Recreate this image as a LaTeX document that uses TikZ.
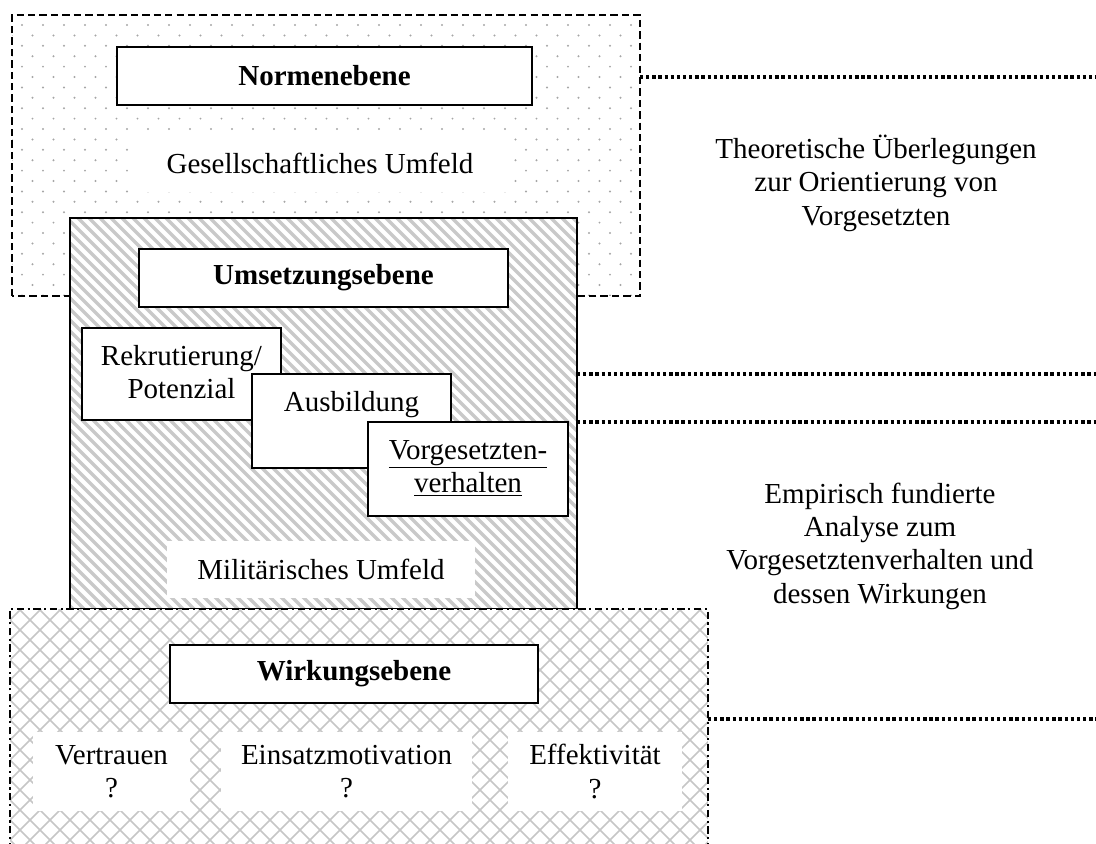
\documentclass[tikz,border=0pt]{standalone}
\usepackage{fontspec}
\setmainfont{Liberation Serif}
\usepackage{tikz}

\newcommand{\bildschrift}{\fontsize{16.5}{19}\selectfont}

\tikzset{
  ebene/.style={draw, line width=1.1pt, fill=white, inner sep=0pt, outer sep=0pt,
    minimum height=1.16cm, font=\bildschrift\bfseries},
  stufe/.style={draw, line width=0.85pt, fill=white, inner sep=0pt, outer sep=0pt,
    anchor=north west, minimum width=3.98cm, text height=0.74cm, font=\bildschrift},
  umfeld/.style={fill=white, inner sep=0pt, align=center, font=\bildschrift},
  notiz/.style={align=center, font=\bildschrift},
  rahmen/.style={inner sep=0pt, outer sep=0pt},
  punkt/.style={fill=gray!70},
  streifen/.style={draw=gray!42, line width=2pt},
  gitter/.style={draw=gray!45, line width=0.85pt},
  verbinder/.style={line width=1.9pt, dash pattern=on 1.9pt off 1.6pt},
}

\begin{document}
\begin{tikzpicture}[x=0.02cm, y=-0.02cm]
\useasboundingbox (0,0) rectangle (1096,843);

% Normenebene
\node[rahmen, minimum width=12.56cm, minimum height=5.62cm] (gesbox) at (326,155.5) {};
\begin{scope}
  \clip (gesbox.south west) rectangle (gesbox.north east);
  \foreach \r in {0,...,27}
    \foreach \c in {-1,...,30}
      \fill[punkt] ({22+21*\c+10.5*mod(\r,2)},{25+10.4*\r}) circle[radius=0.022cm];
\end{scope}
\draw[line width=0.85pt, dash pattern=on 4.2pt off 2.3pt] (gesbox.south west) rectangle (gesbox.north east);
\node[ebene, minimum width=8.3cm] (norm) at (324.5,76) {Normenebene};
\node[umfeld, minimum width=7.52cm, minimum height=1.14cm] (ges) at (320,163.5) {Gesellschaftliches Umfeld};

% Umsetzungsebene
\node[rahmen, minimum width=10.14cm, minimum height=7.82cm] (milbox) at (323.5,413.5) {};
\begin{scope}
  \clip (milbox.south west) rectangle (milbox.north east);
  \fill[white] (milbox.south west) rectangle (milbox.north east);
  \foreach \k in {-37,...,48}
    \draw[streifen] ({70+11*\k},210) -- ++(410,410);
\end{scope}
\draw[line width=0.85pt] (milbox.south west) rectangle (milbox.north east);
\node[ebene, minimum width=7.38cm] (ums) at (323.5,278) {Umsetzungsebene};
\node[stufe, text depth=1.1cm] (rek) at (82,328)
  {\begin{tabular}[t]{@{}c@{}}Rekrutierung/\\Potenzial\end{tabular}};
\node[stufe, text depth=1.14cm] (ausb) at (252,374) {Ausbildung};
\node[stufe, text depth=1.14cm, minimum width=4cm] (vorg) at (368,422)
  {\begin{tabular}[t]{@{}c@{}}\underline{Vorgesetzten-}\\\underline{verhalten}\end{tabular}};
\node[umfeld, minimum width=6.16cm, minimum height=1.14cm] (mil) at (321,569.5) {Militärisches Umfeld};

% Wirkungsebene
\node[rahmen, minimum width=13.96cm, minimum height=4.82cm] (wirkbox) at (359,729.5) {};
\begin{scope}
  \clip (wirkbox.south west) rectangle (wirkbox.north east);
  \fill[white] (wirkbox.south west) rectangle (wirkbox.north east);
  \foreach \k in {-14,...,48} {
    \draw[gitter] ({10+20*\k},600) -- ++(260,260);
    \draw[gitter] ({10+20*\k},600) -- ++(-260,260);
  }
\end{scope}
\draw[line width=0.85pt, dash pattern=on 4.2pt off 2pt on 1.2pt off 2pt]
  (wirkbox.south west) rectangle (wirkbox.north east);
\node[ebene, minimum width=7.36cm] (wirk) at (354,674) {Wirkungsebene};
\node[umfeld, minimum width=3.14cm, minimum height=1.58cm] (vert) at (111.5,771.5) {Vertrauen\\?};
\node[umfeld, minimum width=5.02cm, minimum height=1.58cm] (eins) at (346.5,771.5) {Einsatzmotivation\\?};
\node[umfeld, minimum width=3.48cm, minimum height=1.58cm] (eff) at (595,771.5) {Effektivität\\?};

% Zuordnung rechts
\coordinate (rand1) at (1096,77);
\coordinate (rand4) at (1096,719);
\draw[verbinder] (gesbox.east |- rand1) -- (rand1);
\draw[verbinder] (milbox.east |- ausb.north) -- (rand1 |- ausb.north);
\draw[verbinder] (milbox.east |- vorg.north) -- (rand1 |- vorg.north);
\draw[verbinder] (wirkbox.east |- rand4) -- (rand4);

\node[notiz] (theorie) at (876,183) {Theoretische Überlegungen\\zur Orientierung von\\Vorgesetzten};
\node[notiz] (empirie) at (880,546) {Empirisch fundierte\\Analyse zum\\Vorgesetztenverhalten und\\dessen Wirkungen};
\end{tikzpicture}
\end{document}
